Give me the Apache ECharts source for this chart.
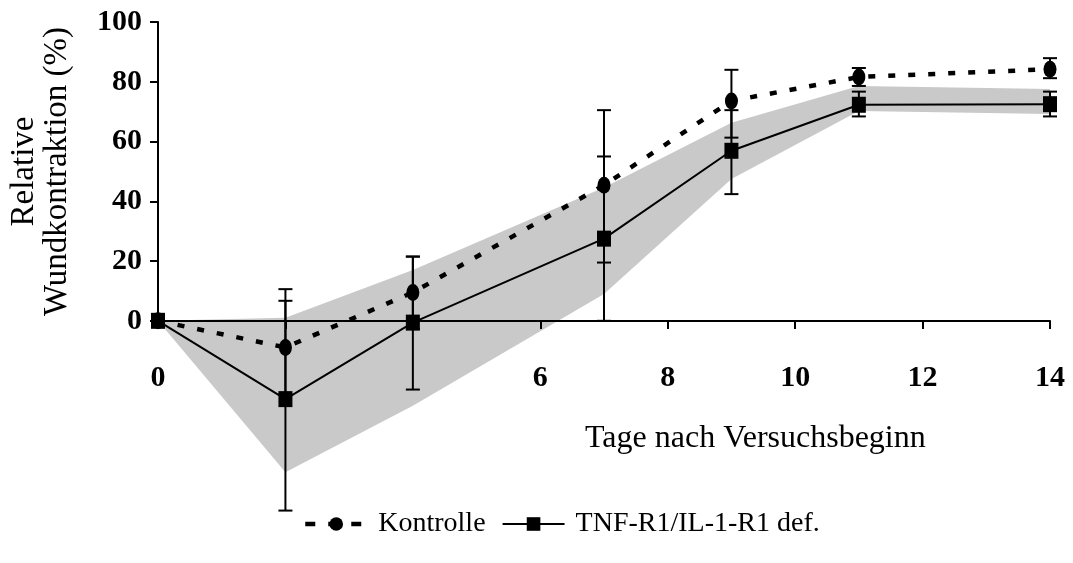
<!DOCTYPE html>
<html>
<head>
<meta charset="utf-8">
<script src="https://cdn.jsdelivr.net/npm/echarts@6/dist/echarts.min.js"></script>
<style>
html,body{margin:0;padding:0;background:#fff;}
#chart{width:1073px;height:563px;}
</style>
</head>
<body>
<div id="chart"></div>
<script>
// Data
const days = [0, 2, 4, 7, 9, 11, 14];
const kontrolle = [0, -8.9, 9.5, 45.4, 73.6, 81.6, 84.2];
const kontrolleLow = [0, -24.5, -2.7, 19.5, 61.3, 78.6, 81.2];
const kontrolleHigh = [0, 6.7, 21.5, 70.5, 84.0, 84.6, 87.9];
const tnf = [0, -26.2, -0.6, 27.5, 56.9, 72.3, 72.5];
const tnfLow = [0, -63.5, -23.0, 0, 42.4, 68.4, 68.4];
const tnfHigh = [0, 10.6, 21.5, 55.0, 70.5, 76.7, 76.7];
const bandLow = [0, -50.7, -28.4, 9.0, 47.5, 70.2, 69.2];
const bandHigh = [0, 1.0, 17.0, 44.6, 66.3, 78.6, 77.6];
const xTickLabels = ['0', '', '', '6', '8', '10', '12', '14'];
const yTickLabels = ['0', '20', '40', '60', '80', '100'];

const FONT = "'Liberation Serif', 'Times New Roman', serif";
const chart = echarts.init(document.getElementById('chart'));

function errRender(params, api) {
  const x = api.value(0), lo = api.value(1), hi = api.value(2);
  if (lo === hi) return null;
  const p1 = api.coord([x, lo]);
  const p2 = api.coord([x, hi]);
  const hw = 7;
  const st = {stroke: '#000', lineWidth: 2};
  return {
    type: 'group',
    children: [
      {type: 'line', shape: {x1: p1[0], y1: p1[1], x2: p2[0], y2: p2[1]}, style: st},
      {type: 'line', shape: {x1: p1[0] - hw, y1: p1[1], x2: p1[0] + hw, y2: p1[1]}, style: st},
      {type: 'line', shape: {x1: p2[0] - hw, y1: p2[1], x2: p2[0] + hw, y2: p2[1]}, style: st}
    ]
  };
}

function bandRender(params, api) {
  if (params.dataIndex !== 0) return null;
  const pts = [];
  for (let i = 0; i < days.length; i++) pts.push(api.coord([days[i], bandHigh[i]]));
  for (let i = days.length - 1; i >= 0; i--) pts.push(api.coord([days[i], bandLow[i]]));
  return {type: 'polygon', shape: {points: pts}, style: {fill: '#c9c9c9', stroke: null}};
}

const option = {
  animation: false,
  backgroundColor: '#fff',
  title: {
    text: 'Tage nach Versuchsbeginn',
    left: 585, top: 423, padding: 0,
    textStyle: {fontFamily: FONT, fontSize: 32, fontWeight: 'normal', color: '#000'}
  },
  legend: {
    data: [
      {name: 'Kontrolle', lineStyle: {type: [10, 13], width: 4.5}},
      {name: 'TNF-R1/IL-1-R1 def.'}
    ],
    left: 303, top: 510, padding: 0,
    itemWidth: 62, itemHeight: 17, itemGap: 16,
    textStyle: {fontFamily: FONT, fontSize: 28, color: '#000', padding: [0, 0, 0, 6]}
  },
  grid: [
    {left: 158, right: 23, top: 22, height: 508, containLabel: false, outerBoundsMode: 'none'},
    {left: 158, right: 23, top: 22, height: 299, containLabel: false, outerBoundsMode: 'none'}
  ],
  xAxis: [
    {gridIndex: 0, type: 'value', min: 0, max: 14, show: false},
    {
      gridIndex: 1, type: 'value', min: 0, max: 14, interval: 2, position: 'bottom',
      axisLine: {show: true, onZero: false, lineStyle: {color: '#000', width: 2}},
      axisTick: {show: true, inside: false, length: 8, lineStyle: {color: '#000', width: 2}},
      splitLine: {show: false},
      axisLabel: {
        margin: 42, color: '#000', fontFamily: FONT, fontSize: 30, fontWeight: 'bold',
        formatter: v => xTickLabels[Math.round(v / 2)] || ''
      }
    }
  ],
  yAxis: [
    {
      gridIndex: 0, type: 'value', min: -70, max: 100, interval: 10,
      axisLine: {show: false}, axisTick: {show: false}, axisLabel: {show: false}, splitLine: {show: false}
    },
    {
      gridIndex: 1, type: 'value', min: 0, max: 100, interval: 20,
      axisLine: {show: true, onZero: false, lineStyle: {color: '#000', width: 2}},
      axisTick: {show: true, inside: false, length: 8, lineStyle: {color: '#000', width: 2}},
      splitLine: {show: false},
      axisLabel: {
        margin: 16, color: '#000', fontFamily: FONT, fontSize: 30, fontWeight: 'bold',
        formatter: v => yTickLabels[Math.round(v / 20)]
      },
      name: 'Relative\nWundkontraktion (%)',
      nameLocation: 'middle', nameRotate: 90, nameGap: 84,
      nameTextStyle: {fontFamily: FONT, fontSize: 33, color: '#000', lineHeight: 33, align: 'center'}
    }
  ],
  series: [
    {
      name: 'band', type: 'custom', xAxisIndex: 0, yAxisIndex: 0,
      data: days.map((d, i) => [d, bandLow[i], bandHigh[i]]),
      renderItem: bandRender, silent: true, z: -2
    },
    {
      name: 'errK', type: 'custom', xAxisIndex: 0, yAxisIndex: 0,
      data: days.map((d, i) => [d, kontrolleLow[i], kontrolleHigh[i]]),
      renderItem: errRender, z: 3, silent: true
    },
    {
      name: 'errT', type: 'custom', xAxisIndex: 0, yAxisIndex: 0,
      data: days.map((d, i) => [d, tnfLow[i], tnfHigh[i]]),
      renderItem: errRender, z: 3, silent: true
    },
    {
      name: 'Kontrolle', type: 'line', xAxisIndex: 0, yAxisIndex: 0,
      data: days.map((d, i) => [d, kontrolle[i]]),
      symbol: 'circle', symbolSize: [13, 17], showAllSymbol: true,
      itemStyle: {color: '#000'},
      lineStyle: {color: '#000', width: 4.5, type: [7, 13]}, z: 4
    },
    {
      name: 'TNF-R1/IL-1-R1 def.', type: 'line', xAxisIndex: 0, yAxisIndex: 0,
      data: days.map((d, i) => [d, tnf[i]]),
      symbol: 'rect', symbolSize: [14, 16], showAllSymbol: true,
      itemStyle: {color: '#000'},
      lineStyle: {color: '#000', width: 2, type: 'solid'}, z: 5
    }
  ]
};
chart.setOption(option);
</script>
</body>
</html>
